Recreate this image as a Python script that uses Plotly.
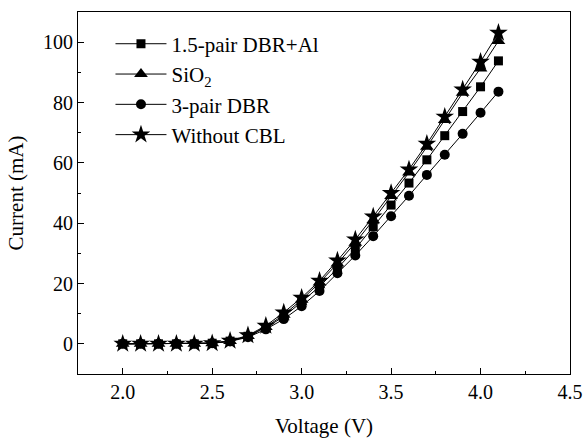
import plotly.graph_objects as go

voltage = [2.0, 2.1, 2.2, 2.3, 2.4, 2.5, 2.6, 2.7, 2.8, 2.9, 3.0, 3.1,
           3.2, 3.3, 3.4, 3.5, 3.6, 3.7, 3.8, 3.9, 4.0, 4.1]

dbr_al = [0, 0, 0, 0, 0, 0.2, 0.9, 2.5, 5.4, 9.0, 13.9, 19.0,
          25.0, 31.5, 38.8, 46.0, 53.3, 61.0, 69.0, 77.0, 85.2, 93.8]
sio2 = [0, 0, 0, 0, 0, 0.2, 0.9, 2.6, 5.6, 9.6, 14.6, 20.3,
        26.6, 33.5, 41.0, 49.0, 56.8, 65.3, 74.2, 83.2, 91.3, 100.4]
dbr3 = [0, 0, 0, 0, 0, 0.2, 0.8, 2.2, 4.8, 8.2, 12.5, 17.5,
        23.4, 29.3, 35.7, 42.3, 49.1, 56.0, 62.7, 69.6, 76.6, 83.6]
no_cbl = [0, 0, 0, 0, 0, 0.2, 1.0, 2.8, 6.0, 10.4, 15.3, 20.9,
          27.6, 34.6, 42.2, 50.0, 57.8, 66.3, 75.3, 84.3, 93.5, 103.1]

series = [
    ("1.5-pair DBR+Al", dbr_al, "square", 9),
    ("SiO<sub>2</sub>", sio2, "triangle-up", 12),
    ("3-pair DBR", dbr3, "circle", 10),
    ("Without CBL", no_cbl, "star", 14),
]

fam = "Liberation Serif, Times New Roman, serif"
fig = go.Figure()
for name, ys, sym, sz in series:
    fig.add_trace(go.Scatter(
        x=voltage, y=ys, name=name, mode="lines+markers",
        line=dict(color="black", width=1),
        marker=dict(symbol=sym, size=sz, color="black", line=dict(width=0)),
    ))

tickfont = dict(family=fam, size=20, color="black")
titlefont = dict(family=fam, size=21, color="black")
axis_common = dict(
    showline=True, linecolor="black", linewidth=1, mirror=True,
    ticks="inside", ticklen=6, tickwidth=1, tickcolor="black",
    showgrid=False, zeroline=False, automargin=False,
    tickfont=tickfont,
)
fig.update_xaxes(
    range=[1.75, 4.5], tickmode="array",
    tickvals=[2.0, 2.5, 3.0, 3.5, 4.0, 4.5],
    ticktext=["2.0", "2.5", "3.0", "3.5", "4.0", "4.5"],
    minor=dict(ticks="inside", ticklen=3, tickcolor="black", dtick=0.25, tick0=1.75),
    title=dict(text="Voltage (V)", font=titlefont, standoff=17),
    **axis_common,
)
fig.update_yaxes(
    range=[-10, 110], tickmode="array",
    tickvals=[0, 20, 40, 60, 80, 100],
    minor=dict(ticks="inside", ticklen=3, tickcolor="black", dtick=10, tick0=0),
    title=dict(text="Current (mA)", font=titlefont, standoff=13),
    **axis_common,
)
fig.update_layout(
    width=584, height=438,
    margin=dict(l=78, r=14, t=12, b=64),
    paper_bgcolor="white", plot_bgcolor="white",
    font=dict(family=fam, size=20, color="black"),
    showlegend=True,
    legend=dict(x=0.066, y=0.968, xanchor="left", yanchor="top",
                bgcolor="rgba(0,0,0,0)", font=dict(family=fam, size=21, color="black"),
                tracegroupgap=0, itemwidth=51),
)
fig.write_html("out.html", config={"displayModeBar": False},
               post_script="document.body.style.margin='0';document.body.style.overflow='hidden';")
